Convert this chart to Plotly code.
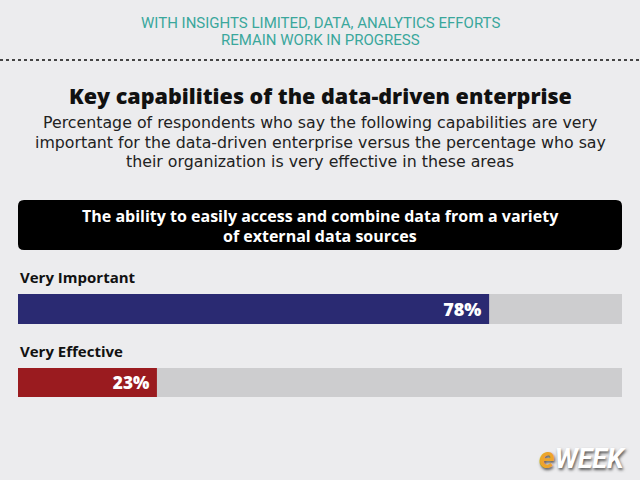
import plotly.graph_objects as go

categories = ["Very Important", "Very Effective"]
values = [78, 23]
colors = ["#2a2a72", "#9a1b1f"]
track_max = 100

W, H = 640, 480
BG = "#ececee"
X0, X1 = 18 / W, 622 / W

def py(p):
    return 1 - p / H

fig = go.Figure()

# bar domains in pixels (top, bottom)
bar_px = [(294, 324), (368, 397)]
axes = ["y", "y2"]
for i, (cat, val, col) in enumerate(zip(categories, values, colors)):
    ya = axes[i]
    fig.add_trace(go.Bar(
        x=[track_max], y=[cat], orientation="h", marker=dict(color="#cdcdcf", line_width=0),
        width=1, hoverinfo="skip", showlegend=False, yaxis=ya, xaxis="x",
    ))
    fig.add_trace(go.Bar(
        x=[val], y=[cat], orientation="h", marker=dict(color=col, line_width=0),
        width=1, showlegend=False, yaxis=ya, xaxis="x",
        text=[f"{val}%\u00a0"], textposition="inside", insidetextanchor="end",
        textfont=dict(family="Open Sans", size=21, color="white", weight=800),
        cliponaxis=False,
    ))

layout_axes = {}
for i, ya in enumerate(axes):
    top, bot = bar_px[i]
    key = "yaxis" if ya == "y" else "yaxis2"
    layout_axes[key] = dict(domain=[py(bot), py(top)], range=[-0.5, 0.5], visible=False,
                            fixedrange=True, anchor="x")

fig.update_layout(
    width=W, height=H, margin=dict(l=0, r=0, t=0, b=0),
    paper_bgcolor=BG, plot_bgcolor=BG, barmode="overlay",
    xaxis=dict(domain=[X0, X1], range=[0, track_max], visible=False, fixedrange=True),
    **layout_axes,
)

ann = []
def add(text, x, y, size, color, family="Open Sans", weight=400, xanchor="center", **kw):
    ann.append(dict(text=text, x=x, y=y, xref="paper", yref="paper", xanchor=xanchor,
                    yanchor="middle", showarrow=False,
                    font=dict(family=family, size=size, color=color, weight=weight), **kw))

add("WITH INSIGHTS LIMITED, DATA, ANALYTICS EFFORTS", 0.5, py(23), 15, "#3aa79c", family="Roboto")
add("REMAIN WORK IN PROGRESS", 0.5, py(40), 15, "#3aa79c", family="Roboto")
add("Key capabilities of the data-driven enterprise", 0.5, py(96), 21.5, "#111111", weight=800)
add("Percentage of respondents who say the following capabilities are very", 0.5, py(123), 15.8, "#222222", family="DejaVu Sans")
add("important for the data-driven enterprise versus the percentage who say", 0.5, py(142), 15.8, "#222222", family="DejaVu Sans")
add("their organization is very effective in these areas", 0.5, py(161), 15.8, "#222222", family="DejaVu Sans")
add("The ability to easily access and combine data from a variety", 0.5, py(216), 16, "white", weight=700)
add("of external data sources", 0.5, py(236), 16, "white", weight=700)
add(categories[0], X0, py(277), 15, "#111111", weight=700, xanchor="left")
add(categories[1], X0, py(351), 15, "#111111", weight=700, xanchor="left")
ann.append(dict(text="<b><i><span style='color:#eda52b;font-size:30px'>e</span>WEEK</i></b>", x=628 / W, y=py(457),
                xref="paper", yref="paper", xanchor="right", yanchor="middle", showarrow=False,
                font=dict(family="Liberation Sans Narrow, Roboto", size=27, color="white",
                          shadow="1px 2px 3px #555555")))
fig.update_layout(annotations=ann)

# rounded black box
x0, x1, y0, y1, r = X0, X1, py(250), py(200), 6
rx, ry = r / W, r / H
path = (f"M {x0+rx},{y1} L {x1-rx},{y1} Q {x1},{y1} {x1},{y1-ry} L {x1},{y0+ry} "
        f"Q {x1},{y0} {x1-rx},{y0} L {x0+rx},{y0} Q {x0},{y0} {x0},{y0+ry} "
        f"L {x0},{y1-ry} Q {x0},{y1} {x0+rx},{y1} Z")
fig.add_shape(type="path", path=path, xref="paper", yref="paper", fillcolor="#000000",
              line_width=0, layer="below")
fig.add_shape(type="line", x0=0, x1=1, y0=py(60), y1=py(60), xref="paper", yref="paper",
              line=dict(color="#444444", width=2, dash="dot"))

fig.write_html("out.html")
